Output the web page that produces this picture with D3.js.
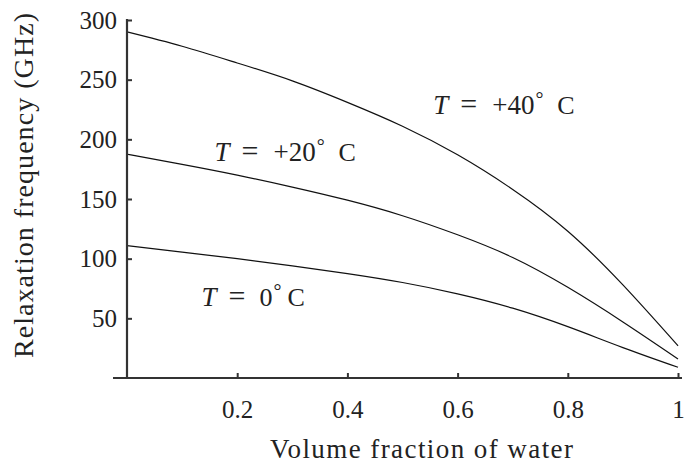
<!DOCTYPE html>
<html><head><meta charset="utf-8">
<script src="https://cdn.jsdelivr.net/npm/d3@7"></script>
<style>
body{margin:0;background:#fff;}
text{font-family:"Liberation Serif","DejaVu Serif",serif;fill:#222;}
</style></head>
<body><svg id="c" width="686" height="465"></svg>
<script>
const fraction = [0,0.1,0.2,0.3,0.4,0.5,0.6,0.7,0.8,0.9,1.0];
const t0  = [111,105.5,100,94,87.5,80,70.5,58.5,43,25.5,9];
const t20 = [187.5,179,170,160,149,136,120,101,76,47,16];
const t40 = [290,278,264,249,231,211,187,158,123,78,27];
const xTicks = [0.2,0.4,0.6,0.8,1];
const xTickLabels = ["0.2","0.4","0.6","0.8","1"];
const yTicks = [50,100,150,200,250,300];
const xTitle = "Volume fraction of water";
const yTitle = "Relaxation frequency (GHz)";
const labelTemps = ["+40","+20","0"];
const labelPos = [[0.556,221],[0.159,182],[0.135,60]];

const svg = d3.select("#c");
const x = d3.scaleLinear().domain([0,1]).range([127,678]);
const y = d3.scaleLinear().domain([0,300]).range([378,20]);

const series = [t0,t20,t40];
const line = d3.line().x((d,i)=>x(fraction[i])).y(d=>y(d)).curve(d3.curveNatural);
series.forEach(s=>{
  svg.append("path").attr("d",line(s)).attr("fill","none").attr("stroke","#111").attr("stroke-width",1.2);
});

// axes
const xa = svg.append("g").attr("transform","translate(0,378)")
  .call(d3.axisBottom(x).tickValues(xTicks).tickFormat((d,i)=>xTickLabels[i]).tickSizeInner(-5).tickSizeOuter(0).tickPadding(22));
xa.select(".domain").remove();
xa.append("line").attr("x1",113).attr("x2",682).attr("stroke","#333").attr("stroke-width",2.2);
xa.selectAll(".tick line").attr("stroke","#333").attr("stroke-width",2);
xa.selectAll(".tick text").attr("font-size",25).attr("font-family","Liberation Serif").attr("fill","#222");

const ya = svg.append("g").attr("transform","translate(127,0)")
  .call(d3.axisLeft(y).tickValues(yTicks).tickSizeInner(-5).tickSizeOuter(0).tickPadding(10));
ya.select(".domain").remove();
ya.append("line").attr("y1",19).attr("y2",379).attr("stroke","#333").attr("stroke-width",2.2);
ya.selectAll(".tick line").attr("stroke","#333").attr("stroke-width",2);
ya.selectAll(".tick text").attr("font-size",25).attr("font-family","Liberation Serif").attr("fill","#222");

svg.append("text").attr("x",421.5).attr("y",458).attr("text-anchor","middle").attr("font-size",27)
  .attr("textLength",303).attr("lengthAdjust","spacing").text(xTitle);
svg.append("text").attr("transform","translate(33,185.5) rotate(-90)").attr("text-anchor","middle").attr("font-size",28)
  .attr("textLength",345).attr("lengthAdjust","spacing").text(yTitle);

labelTemps.forEach((tmp,i)=>{
  const x0 = x(labelPos[i][0]), y0 = y(labelPos[i][1]);
  const cOff = tmp.length>1 ? 124 : 86;
  const t = svg.append("text").attr("y",y0).attr("font-size",26);
  t.append("tspan").attr("x",x0).attr("font-style","italic").attr("font-size",27).text("T");
  t.append("tspan").attr("x",x0+27).attr("font-size",30).text("=");
  t.append("tspan").attr("x",x0+(tmp.length>1 ? 59 : 58)).attr("font-size",tmp.length>1 ? 27 : 26).text(tmp);
  t.append("tspan").attr("dx",1).attr("dy",-8).attr("font-size",20).text("°");
  t.append("tspan").attr("x",x0+cOff).attr("dy",8).text("C");
});
</script></body></html>
